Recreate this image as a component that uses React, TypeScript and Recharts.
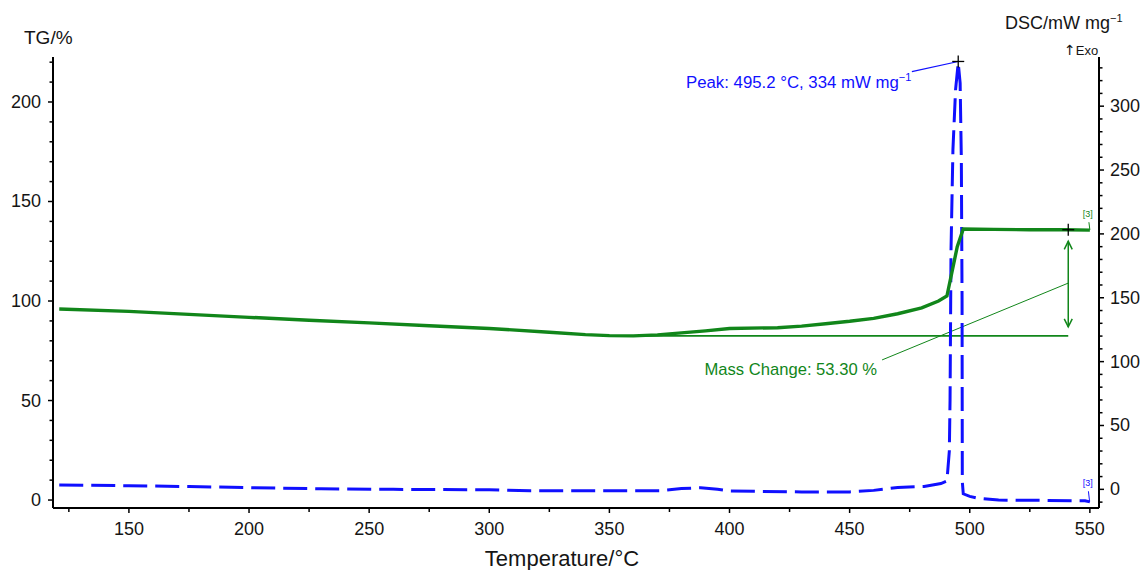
import React from "react";
import {
  ComposedChart,
  Line,
  XAxis,
  YAxis,
  ReferenceLine,
  ReferenceDot,
} from "recharts";

// TG curve (left axis, %)
const tgTemp = [
  121, 150, 175, 200, 225, 250, 275, 300, 325, 340, 350, 360, 370, 380, 390,
  400, 420, 430, 440, 450, 460, 470, 480, 487, 490.5, 492.5, 494.8, 497.3, 510,
  525, 540, 550,
];
const tgValues = [
  96, 94.8, 93.3, 91.8, 90.3, 89, 87.6, 86.2, 84.3, 83.1, 82.6, 82.5, 83, 84,
  85, 86.2, 86.6, 87.4, 88.6, 89.8, 91.3, 93.6, 96.6, 100, 102.5, 114, 127.3,
  136.2, 136, 135.8, 135.8, 135.6,
];

// DSC curve (right axis, mW/mg)
const dscTemp = [
  121, 150, 175, 200, 230, 260, 300, 317, 350, 371, 380, 388, 395, 400, 430, 450,
  460, 470, 481, 488, 490.5, 491.5, 491.8, 492.2, 493, 494.1, 495.2, 496, 496.5,
  496.8, 496.9, 497.3, 500, 503, 512, 530, 545, 548, 550,
];
const dscValues = [
  3.5, 2.8, 2.2, 1.3, 0.4, 0, -0.3, -1, -1.1, -1.1, 0.6, 1.3, 0, -1.3, -2, -2,
  -0.8, 1.5, 2.3, 4.5, 6.5, 30, 70, 187, 266, 313, 334, 318, 258, 148, 6, -3.5,
  -5.5, -6.8, -8.4, -8.6, -9, -9, -9.8,
];

const tempTicks = [
  125, 150, 175, 200, 225, 250, 275, 300, 325, 350, 375, 400, 425, 450, 475,
  500, 525, 550,
];
const tgTicks = [
  0, 10, 20, 30, 40, 50, 60, 70, 80, 90, 100, 110, 120, 130, 140, 150, 160, 170,
  180, 190, 200, 210, 220,
];
const dscTicks = [
  -10, 0, 10, 20, 30, 40, 50, 60, 70, 80, 90, 100, 110, 120, 130, 140, 150, 160,
  170, 180, 190, 200, 210, 220, 230, 240, 250, 260, 270, 280, 290, 300, 310, 320,
  330,
];

// annotations (data units)
const peakPoint = { T: 495.2, dsc: 334 };
const peakLabelAt = { T: 475.7, dsc: 314.5 };
const peakLeaderEnd = { T: 475.9, dsc: 327 };
const massBaseline = 82.5;
const massTop = 135.8;
const massT = 541;
const massLeader = [
  { T: 463.5, tg: 70.4 },
  { T: 541, tg: 109 },
];
const massLabelAt = { T: 461.4, tg: 62.8 };

const tgData = tgTemp.map((T, i) => ({ T, tg: tgValues[i] }));
const dscData = dscTemp.map((T, i) => ({ T, dsc: dscValues[i] }));

const FONT = '"Liberation Sans", Arial, Helvetica, sans-serif';
const GREEN = "#11861a";
const BLUE = "#1010ff";
const INK = "#151515";

function BottomTick(props: any) {
  const { x, y, payload } = props;
  const major = payload.value % 50 === 0;
  return (
    <g>
      <line x1={x} x2={x} y1={y} y2={y + (major ? 5 : 4)} stroke="#000" strokeWidth={1.5} />
      {major && (
        <text x={x} y={y + 27} textAnchor="middle" fontSize={18} fill={INK} fontFamily={FONT}>
          {payload.value}
        </text>
      )}
    </g>
  );
}

function LeftTick(props: any) {
  const { x, y, payload } = props;
  const major = payload.value % 50 === 0;
  return (
    <g>
      <line x1={x} x2={x - (major ? 5 : 3.5)} y1={y} y2={y} stroke="#000" strokeWidth={1.5} />
      {major && (
        <text x={x - 12} y={y + 6} textAnchor="end" fontSize={18} fill={INK} fontFamily={FONT}>
          {payload.value}
        </text>
      )}
    </g>
  );
}

function RightTick(props: any) {
  const { x, y, payload } = props;
  const major = payload.value % 50 === 0;
  return (
    <g>
      <line x1={x} x2={x + (major ? 5 : 3.5)} y1={y} y2={y} stroke="#000" strokeWidth={1.5} />
      {major && (
        <text x={x + 11} y={y + 6} textAnchor="start" fontSize={18} fill={INK} fontFamily={FONT}>
          {payload.value}
        </text>
      )}
    </g>
  );
}

const cross = (props: any) => (
  <g>
    <line x1={props.cx - 6} x2={props.cx + 6} y1={props.cy} y2={props.cy} stroke="#000" strokeWidth={1.3} />
    <line x1={props.cx} x2={props.cx} y1={props.cy - 6} y2={props.cy + 6} stroke="#000" strokeWidth={1.3} />
  </g>
);

const arrowUp = (props: any) => (
  <polyline
    points={`${props.cx - 4},${props.cy + 8} ${props.cx},${props.cy} ${props.cx + 4},${props.cy + 8}`}
    fill="none"
    stroke={GREEN}
    strokeWidth={1.5}
  />
);

const arrowDown = (props: any) => (
  <polyline
    points={`${props.cx - 4},${props.cy - 8} ${props.cx},${props.cy} ${props.cx + 4},${props.cy - 8}`}
    fill="none"
    stroke={GREEN}
    strokeWidth={1.5}
  />
);

const textShape = (text: React.ReactNode, color: string, size: number) => (props: any) => (
  <text x={props.cx} y={props.cy} textAnchor="end" fontSize={size} fill={color} fontFamily={FONT}>
    {text}
  </text>
);

const tagShape = (color: string) => (props: any) => (
  <text x={props.cx} y={props.cy} textAnchor="middle" fontSize={9} fill={color} fontFamily={FONT}>
    [3]
  </text>
);

export default function App() {
  return (
    <div style={{ position: "absolute", left: 0, top: 0, width: 1143, height: 570, background: "#fff" }}>
      <ComposedChart
        width={1143}
        height={570}
        margin={{ top: 57, right: 43, bottom: 61, left: 52 }}
      >
        <XAxis
          type="number"
          dataKey="T"
          domain={[118.4, 553.8]}
          ticks={tempTicks}
          interval={0}
          allowDataOverflow
          height={1}
          tickSize={0}
          tickMargin={0}
          tickLine={false}
          tick={<BottomTick />}
          axisLine={{ stroke: "#000", strokeWidth: 2 }}
        />
        <YAxis
          yAxisId="tg"
          type="number"
          domain={[-4, 222.6]}
          ticks={tgTicks}
          interval={0}
          allowDataOverflow
          width={1}
          tickSize={0}
          tickMargin={0}
          tickLine={false}
          tick={<LeftTick />}
          axisLine={{ stroke: "#000", strokeWidth: 2 }}
        />
        <YAxis
          yAxisId="dsc"
          orientation="right"
          type="number"
          domain={[-14.6, 338.5]}
          ticks={dscTicks}
          interval={0}
          allowDataOverflow
          width={1}
          tickSize={0}
          tickMargin={0}
          tickLine={false}
          tick={<RightTick />}
          axisLine={{ stroke: "#000", strokeWidth: 2 }}
        />

        {/* mass change construction */}
        <ReferenceLine
          yAxisId="tg"
          segment={[{ x: 350, y: massBaseline }, { x: massT, y: massBaseline }]}
          stroke={GREEN}
          strokeWidth={1.6}
        />
        <ReferenceLine
          yAxisId="tg"
          segment={[{ x: massLeader[0].T, y: massLeader[0].tg }, { x: massLeader[1].T, y: massLeader[1].tg }]}
          stroke={GREEN}
          strokeWidth={1}
        />

        <Line
          yAxisId="dsc"
          data={dscData}
          dataKey="dsc"
          type="linear"
          stroke={BLUE}
          strokeWidth={3}
          strokeDasharray="24 8"
          dot={false}
          activeDot={false}
          isAnimationActive={false}
        />
        <Line
          yAxisId="tg"
          data={tgData}
          dataKey="tg"
          type="linear"
          stroke={GREEN}
          strokeWidth={3.4}
          dot={false}
          activeDot={false}
          isAnimationActive={false}
        />

        <ReferenceLine
          yAxisId="tg"
          segment={[{ x: massT, y: 130 }, { x: massT, y: 87 }]}
          stroke={GREEN}
          strokeWidth={1.5}
        />
        <ReferenceDot yAxisId="tg" x={massT} y={130} ifOverflow="visible" shape={arrowUp} />
        <ReferenceDot yAxisId="tg" x={massT} y={87} ifOverflow="visible" shape={arrowDown} />
        <ReferenceDot yAxisId="tg" x={massT} y={massTop} ifOverflow="visible" shape={cross} />
        <ReferenceDot
          yAxisId="tg"
          x={massLabelAt.T}
          y={massLabelAt.tg}
          ifOverflow="visible"
          shape={textShape("Mass Change: 53.30 %", GREEN, 16.6)}
        />

        {/* peak annotation */}
        <ReferenceLine
          yAxisId="dsc"
          segment={[{ x: peakLeaderEnd.T, y: peakLeaderEnd.dsc }, { x: peakPoint.T, y: peakPoint.dsc + 1 }]}
          stroke={BLUE}
          strokeWidth={1.2}
          ifOverflow="visible"
        />
        <ReferenceDot yAxisId="dsc" x={peakPoint.T} y={peakPoint.dsc + 1} ifOverflow="visible" shape={cross} />
        <ReferenceDot
          yAxisId="dsc"
          x={peakLabelAt.T}
          y={peakLabelAt.dsc}
          ifOverflow="visible"
          shape={textShape(
            <>
              Peak: 495.2 °C, 334 mW mg
              <tspan dy={-7} fontSize={11}>
                −1
              </tspan>
            </>,
            BLUE,
            16.8
          )}
        />

        {/* [3] end tags */}
        <ReferenceLine
          yAxisId="tg"
          segment={[{ x: 550, y: 135.7 }, { x: 549.6, y: 139.6 }]}
          stroke={GREEN}
          strokeWidth={1}
          ifOverflow="visible"
        />
        <ReferenceDot yAxisId="tg" x={549.1} y={142} ifOverflow="visible" shape={tagShape(GREEN)} />
        <ReferenceLine
          yAxisId="dsc"
          segment={[{ x: 549.9, y: -9.8 }, { x: 549.4, y: -1.5 }]}
          stroke={BLUE}
          strokeWidth={1}
          ifOverflow="visible"
        />
        <ReferenceDot yAxisId="dsc" x={549.1} y={2.5} ifOverflow="visible" shape={tagShape(BLUE)} />
      </ComposedChart>

      {/* axis titles */}
      <svg
        width={1143}
        height={570}
        style={{ position: "absolute", left: 0, top: 0, pointerEvents: "none" }}
        fontFamily={FONT}
      >
        <text x={24} y={44} fontSize={19} fill={INK}>
          TG/%
        </text>
        <text x={1005} y={29} fontSize={18} fill={INK}>
          DSC/mW mg
          <tspan dy={-7} fontSize={11}>
            −1
          </tspan>
        </text>
        <text x={1064} y={55} fontSize={13} fill={INK}>
          <tspan fontFamily='"DejaVu Sans"' fontSize={14}>
            ↑
          </tspan>
          Exo
        </text>
        <text x={562} y={566} fontSize={22} textAnchor="middle" fill={INK}>
          Temperature/°C
        </text>
      </svg>
    </div>
  );
}
